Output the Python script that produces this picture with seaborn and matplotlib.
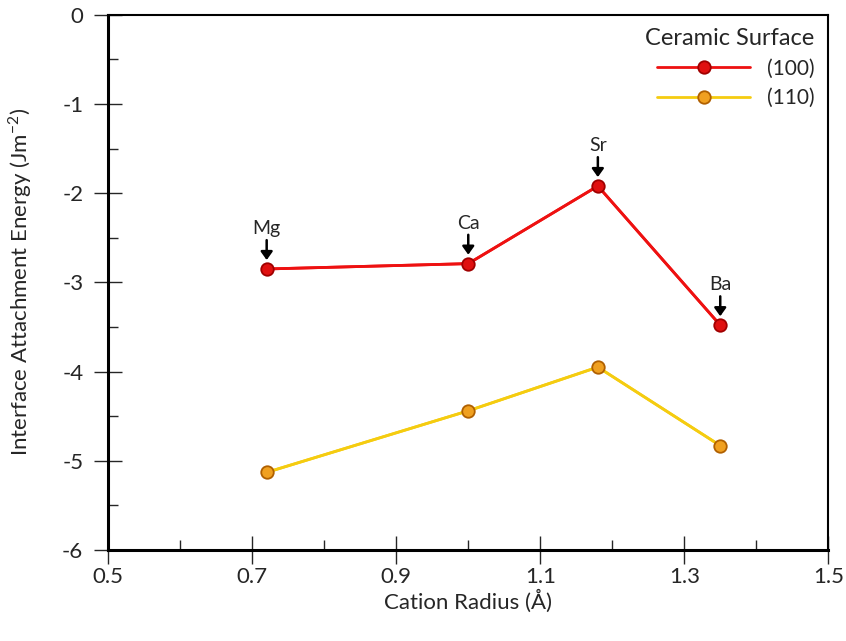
import matplotlib
matplotlib.use('Agg')
import matplotlib.pyplot as plt
import matplotlib.ticker as ticker
import seaborn as sns
import pandas as pd

# Datos
cations = ['Mg', 'Ca', 'Sr', 'Ba']
radius = [0.72, 1.00, 1.18, 1.35]
energy_100 = [-2.85, -2.79, -1.92, -3.48]
energy_110 = [-5.13, -4.44, -3.95, -4.83]
x_ticks = [0.5, 0.7, 0.9, 1.1, 1.3, 1.5]
y_ticks = [0, -1, -2, -3, -4, -5, -6]

df = pd.DataFrame({
    'radius': radius * 2,
    'energy': energy_100 + energy_110,
    'surface': ['(100)'] * 4 + ['(110)'] * 4,
})

sns.set_style('white')
plt.rcParams['font.family'] = ['Lato', 'DejaVu Sans']

fig = plt.figure(figsize=(8.46, 6.41), dpi=100)
ax = fig.add_axes([0.128, 0.142, 0.851, 0.835])

palette = {'(100)': '#ee1111', '(110)': '#f5cc10'}
sns.lineplot(data=df, x='radius', y='energy', hue='surface', palette=palette,
             linewidth=2, ax=ax, legend=False)
for surf, face, edge in [('(100)', '#e01010', '#a00000'), ('(110)', '#f0a020', '#b06000')]:
    sub = df[df['surface'] == surf]
    ax.plot(sub['radius'], sub['energy'], color=palette[surf], lw=2, marker='o',
            markersize=9, markerfacecolor=face, markeredgecolor=edge,
            markeredgewidth=1.3, label=surf)

# Etiquetas de cationes con flecha
for name, x, y in zip(cations, radius, energy_100):
    ax.annotate(name, xy=(x, y + 0.1), xytext=(x, y + 0.36), ha='center', va='bottom',
                fontsize=14,
                arrowprops=dict(arrowstyle='-|>,head_width=0.25,head_length=0.35',
                                color='black', lw=1.8, shrinkA=0, shrinkB=0))

ax.set_xlim(0.5, 1.5)
ax.set_ylim(-6, 0)
ax.xaxis.set_major_locator(ticker.FixedLocator(x_ticks))
ax.xaxis.set_minor_locator(ticker.FixedLocator([0.6, 0.8, 1.0, 1.2, 1.4]))
ax.yaxis.set_major_locator(ticker.FixedLocator(y_ticks))
ax.yaxis.set_minor_locator(ticker.FixedLocator([-0.5, -1.5, -2.5, -3.5, -4.5, -5.5]))
ax.xaxis.set_major_formatter(ticker.FuncFormatter(lambda v, _: f'{v:.1f}'))
ax.yaxis.set_major_formatter(ticker.FuncFormatter(lambda v, _: f'{int(round(v))}'))
ax.tick_params(which='major', direction='inout', length=20, width=1, labelsize=16,
               bottom=True, left=True)
ax.tick_params(axis='x', which='major', pad=2)
ax.tick_params(axis='y', which='major', pad=8)
ax.tick_params(which='minor', direction='in', length=7, width=1, bottom=True, left=True)

for side in ['left', 'bottom']:
    ax.spines[side].set_linewidth(2.2)
for side in ['top', 'right']:
    ax.spines[side].set_linewidth(1.5)
for s in ax.spines.values():
    s.set_color('black')

ax.set_xlabel('Cation Radius (Å)', fontsize=16, labelpad=2)
ax.set_ylabel('Interface Attachment Energy (Jm$^{\\mathregular{-2}}$)', fontsize=16, labelpad=20)

leg = ax.legend(title='Ceramic Surface', loc='upper right', frameon=False, fontsize=15,
                title_fontsize=17, markerfirst=True, handlelength=4.5, borderaxespad=0.25,
                labelspacing=0.45)
leg._legend_box.align = 'right'

fig.savefig('out.png', dpi=100)
